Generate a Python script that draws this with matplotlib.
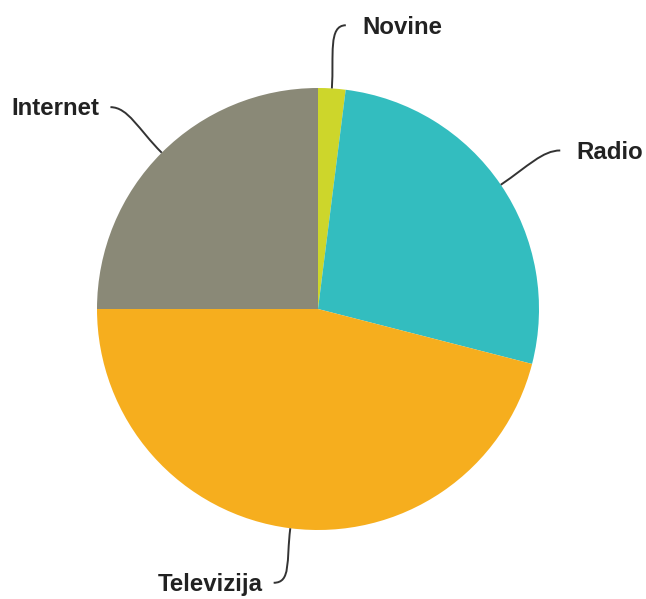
import numpy as np
import matplotlib
matplotlib.use("Agg")
import matplotlib.pyplot as plt
from matplotlib.path import Path
from matplotlib.patches import PathPatch

categories = ["Novine", "Radio", "Televizija", "Internet"]
values = [2, 27, 46, 25]
colors = ["#CDD62B", "#33BDBF", "#F6AE1E", "#8A8977"]

# label layout: connector end radius and angular shift (deg)
label_r = [1.29, 1.31, 1.255, 1.31]
label_shift = [-2.0, -1.0, -2.0, 0.8]

W, H = 646, 599
cx, cy, R = 318, 309, 221  # pie centre / radius in pixels

fig = plt.figure(figsize=(W / 100, H / 100), dpi=100)
ax = fig.add_axes([0, 0, 1, 1])

wedges, _ = ax.pie(values, colors=colors, startangle=90, counterclock=False,
                   radius=1.0, center=(0, 0), frame=True,
                   wedgeprops=dict(linewidth=0))
ax.set_xlim(-cx / R, (W - cx) / R)
ax.set_ylim(-(H - cy) / R, cy / R)
ax.axis("off")

for w, label, rr, sh in zip(wedges, categories, label_r, label_shift):
    mid_deg = (w.theta1 + w.theta2) / 2
    mid = np.deg2rad(mid_deg)
    d = np.array([np.cos(mid), np.sin(mid)])
    e = np.deg2rad(mid_deg + sh)
    de = np.array([np.cos(e), np.sin(e)])
    p0 = d * 1.0
    p1 = d * 1.15
    p3 = de * rr
    side = 1 if d[0] >= 0 else -1
    p2 = p3 - np.array([side * 0.08, 0])
    path = Path([p0, p1, p2, p3],
                [Path.MOVETO, Path.CURVE4, Path.CURVE4, Path.CURVE4])
    ax.add_patch(PathPatch(path, fill=False, edgecolor="#333333", lw=1.4))
    gap = 0.075 if side > 0 else 0.05
    ax.text(p3[0] + side * gap, p3[1] - 0.008, label,
            ha="left" if side > 0 else "right", va="center",
            fontsize=17.3, fontweight="bold", color="#222222",
            family="Liberation Sans")

fig.savefig("out.png", dpi=100)
